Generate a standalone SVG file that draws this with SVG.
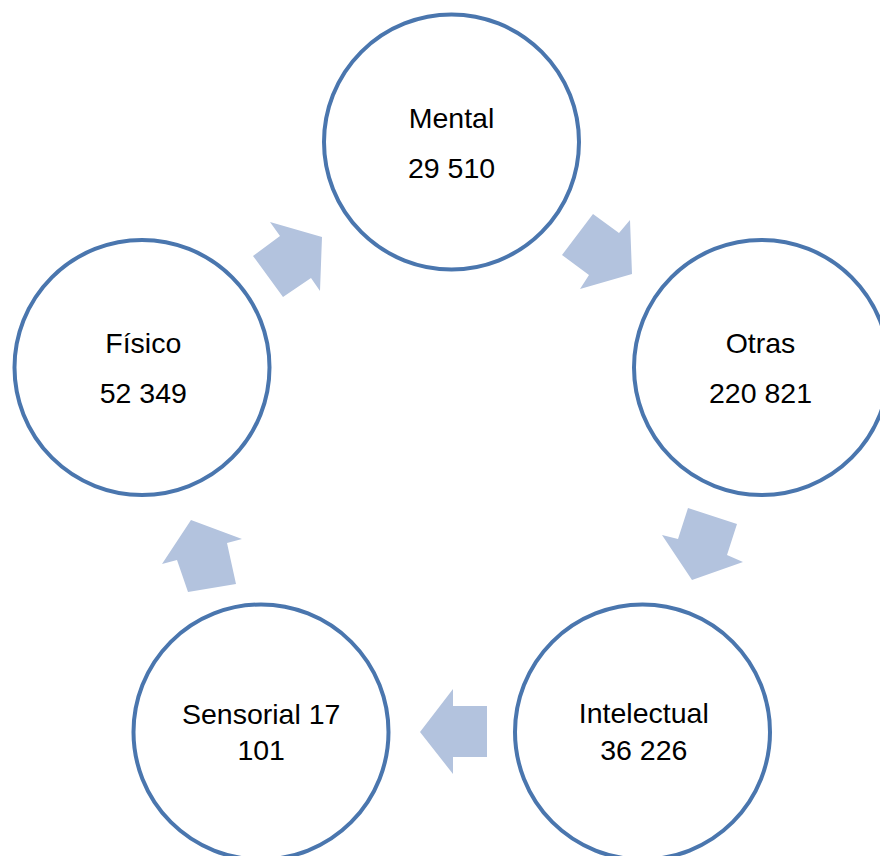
<svg xmlns="http://www.w3.org/2000/svg" width="880" height="856" viewBox="0 0 880 856">
<style>
.node circle{fill:#ffffff;stroke:#4a76ae;stroke-width:4}
.node text{font-family:"Liberation Sans",Arial,sans-serif;font-size:28.5px;fill:#000000;text-anchor:middle}
.arrow{fill:#b3c3de;stroke:none}
</style>
<rect width="880" height="856" fill="#ffffff"/>
<g id="connectors">
<polygon class="arrow" points="270,222 280,236 253,256 283,297 311,278 320,291 322,237"/>
<polygon class="arrow" points="593,214 619,233 630,220 632,274 580,289 589,275 562,255"/>
<polygon class="arrow" points="688,508 737,524 727,555 743,562 692,580 662,535 678,539"/>
<polygon class="arrow" points="487,706 487,757 453,757 453,774 420,732 453,689 453,706"/>
<polygon class="arrow" points="191,520 242,539 227,543 236,584 188,592 177,560 162,564"/>
</g>
<g id="node-mental" class="node">
<circle cx="451.5" cy="142" r="127.5"/>
<text x="451.5" y="128.3">Mental</text>
<text x="451.5" y="178.3">29 510</text>
</g>
<g id="node-otras" class="node">
<circle cx="761.5" cy="367.5" r="127.5"/>
<text x="760.5" y="352.7">Otras</text>
<text x="760.5" y="402.7">220 821</text>
</g>
<g id="node-intelectual" class="node">
<circle cx="642.5" cy="732" r="127.5"/>
<text x="643.8" y="723.3">Intelectual</text>
<text x="643.8" y="760">36 226</text>
</g>
<g id="node-sensorial" class="node">
<circle cx="261" cy="732" r="127.5"/>
<text x="261.2" y="724">Sensorial 17</text>
<text x="261.2" y="760">101</text>
</g>
<g id="node-fisico" class="node">
<circle cx="142" cy="367.5" r="127.5"/>
<text x="143.3" y="352.7">Físico</text>
<text x="143.3" y="403.3">52 349</text>
</g>
</svg>
